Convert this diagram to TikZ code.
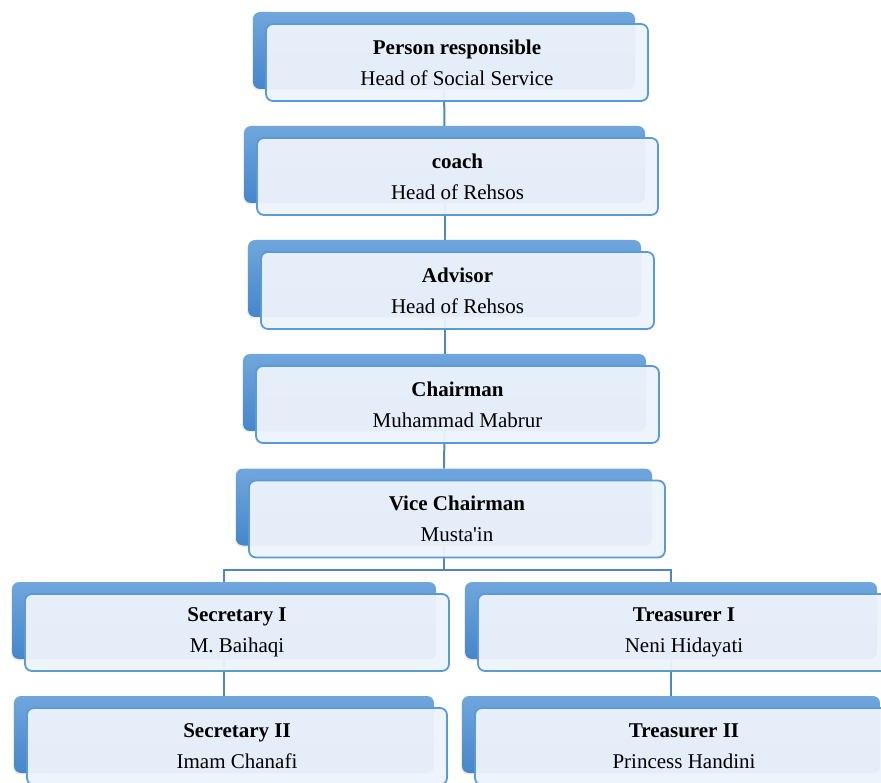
\documentclass[tikz,border=0pt]{standalone}
\usepackage{fontspec}
\setmainfont{Liberation Serif}
\usetikzlibrary{shadows,backgrounds}
\definecolor{backtop}{RGB}{112,166,220}
\definecolor{backbot}{RGB}{70,134,204}
\definecolor{frontfill}{RGB}{237,243,251}
\definecolor{frontline}{RGB}{91,155,213}
\definecolor{linkline}{RGB}{79,134,196}
\tikzset{
  backbox/.style={rounded corners=7pt, top color=backtop, bottom color=backbot,
    minimum height=77pt, inner sep=0pt,
    drop shadow={shadow xshift=-1pt, shadow yshift=-1.5pt, opacity=0.15}},
  frontbox/.style={rounded corners=7pt, draw=frontline, line width=1.8pt,
    fill=frontfill, fill opacity=0.95, text opacity=1, align=center,
    minimum height=77pt, inner sep=0pt,
    font=\fontsize{21}{31}\selectfont},
  link/.style={draw=linkline, line width=2pt}
}
\begin{document}
\begin{tikzpicture}[x=1pt,y=-1pt]
            \useasboundingbox (0,0) rectangle (881,783);

            \node[backbox, minimum width=382pt] (personb) at (444,50.5){};
            \node[frontbox, minimum width=382pt] (person) at (457,62.5){\textbf{Person responsible}\\Head of Social Service};

            \node[backbox, minimum width=401pt] (coachb) at (444.5,164.5){};
            \node[frontbox, minimum width=401pt] (coach) at (457.5,176.5){\textbf{coach}\\Head of Rehsos};

            \node[backbox, minimum width=393pt] (advisorb) at (444.5,278.5){};
            \node[frontbox, minimum width=393pt] (advisor) at (457.5,290.5){\textbf{Advisor}\\Head of Rehsos};

            \node[backbox, minimum width=403pt] (chairb) at (444.5,392.5){};
            \node[frontbox, minimum width=403pt] (chair) at (457.5,404.5){\textbf{Chairman}\\Muhammad Mabrur};

            \node[backbox, minimum width=416pt] (viceb) at (444,507){};
            \node[frontbox, minimum width=416pt] (vice) at (457,519){\textbf{Vice Chairman}\\Musta\textquotesingle in};

            \node[backbox, minimum width=424pt] (secab) at (224,620.5){};
            \node[frontbox, minimum width=424pt] (seca) at (237,632.5){\textbf{Secretary I}\\M. Baihaqi};

            \node[backbox, minimum width=412pt] (treasab) at (671,620.5){};
            \node[frontbox, minimum width=412pt] (treasa) at (684,632.5){\textbf{Treasurer I}\\Neni Hidayati};

            \node[backbox, minimum width=420pt] (secbb) at (224,734.5){};
            \node[frontbox, minimum width=420pt] (secb) at (237,746.5){\textbf{Secretary II}\\Imam Chanafi};

            \node[backbox, minimum width=418pt] (treasbb) at (671,734.5){};
            \node[frontbox, minimum width=418pt] (treasb) at (684,746.5){\textbf{Treasurer II}\\Princess Handini};

            \begin{pgfonlayer}{background}
            \path[link] (personb) edge (coachb);
            \path[link] (coachb) edge (advisorb);
            \path[link] (advisorb) edge (chairb);
            \path[link] (chairb) edge (viceb);
            \coordinate (split) at (444,570);
            \draw[link] (viceb.south) -- (split);
            \draw[link] (split) -| (secab.north);
            \draw[link] (split) -| (treasab.north);
            \path[link] (secab) edge (secbb);
            \path[link] (treasab) edge (treasbb);
            \end{pgfonlayer}

        \end{tikzpicture}
\end{document}
